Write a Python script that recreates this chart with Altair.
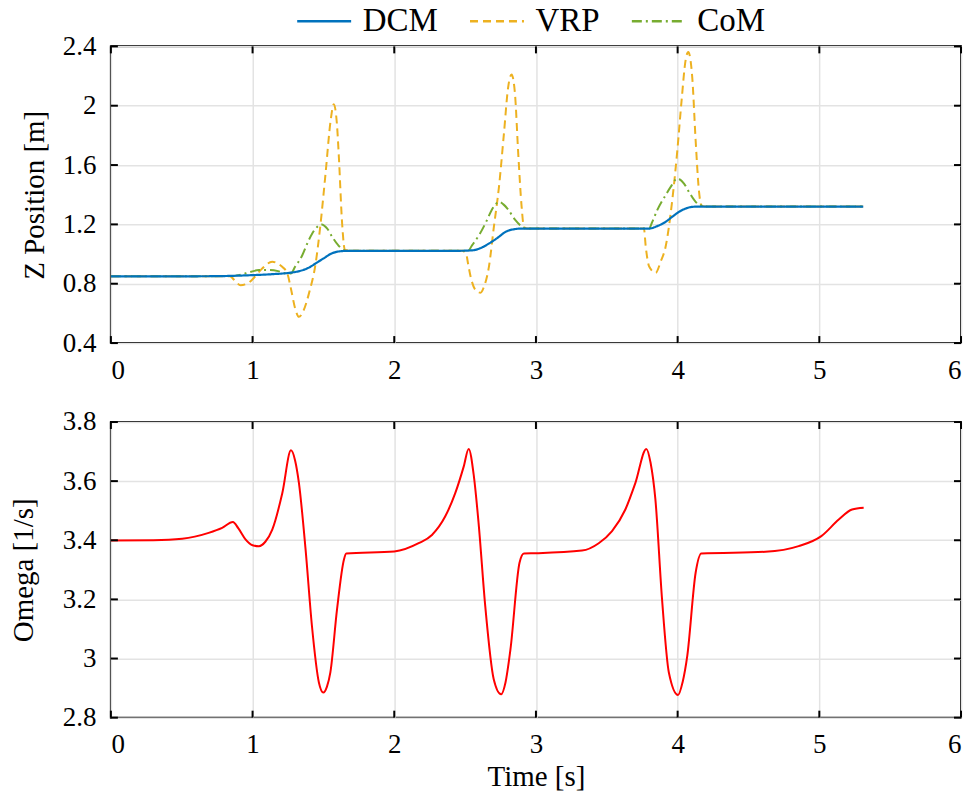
import altair as alt
import pandas as pd

# ---------------- data ----------------
SERIES = ["DCM", "VRP", "CoM"]
COLORS = ["#0072BD", "#EDB120", "#77AC30"]
DASHES = [[1, 0], [8, 5], [10, 4, 2, 4]]

T_DCM = [0, 0.5, 0.76, 0.85, 1.0, 1.15, 1.256, 1.33, 1.40, 1.445, 1.50, 1.56, 1.632, 1.70,
         2.0, 2.45, 2.55, 2.62, 2.668, 2.73, 2.786, 2.85, 2.903, 2.95, 3.5, 3.798, 3.86,
         3.915, 3.96, 4.009, 4.06, 4.103, 4.15, 4.7, 5.31]
Z_DCM = [0.85, 0.85, 0.851, 0.853, 0.858, 0.865, 0.873, 0.885, 0.91, 0.937, 0.97, 1.005, 1.02, 1.022,
         1.022, 1.022, 1.025, 1.045, 1.071, 1.11, 1.15, 1.168, 1.172, 1.172, 1.172, 1.172, 1.19,
         1.217, 1.25, 1.284, 1.308, 1.318, 1.32, 1.32, 1.32]

T_VRP = [0, 0.5, 0.84, 0.88, 0.915, 0.96, 1.0, 1.068, 1.138, 1.18, 1.209, 1.245, 1.27, 1.30,
         1.327, 1.36, 1.398, 1.445, 1.48, 1.515, 1.551, 1.573, 1.595, 1.609, 1.632, 1.651, 1.7,
         2.0, 2.48, 2.508, 2.52, 2.539, 2.574, 2.609, 2.633, 2.668, 2.703, 2.739, 2.774, 2.804,
         2.828, 2.852, 2.875, 2.899, 2.915, 2.94, 3.5, 3.762, 3.775, 3.80, 3.845, 3.88, 3.915,
         3.962, 3.998, 4.028, 4.056, 4.075, 4.103, 4.127, 4.15, 4.167, 4.2, 5.31]
Z_VRP = [0.85, 0.85, 0.85, 0.815, 0.79, 0.80, 0.83, 0.903, 0.948, 0.935, 0.914, 0.87, 0.77, 0.635,
         0.577, 0.62, 0.735, 0.937, 1.206, 1.543, 1.90, 2.01, 1.88, 1.655, 1.206, 1.03, 1.022,
         1.022, 1.022, 1.0, 0.94, 0.847, 0.757, 0.739, 0.779, 0.914, 1.183, 1.453, 1.812, 2.126,
         2.211, 2.08, 1.677, 1.318, 1.183, 1.172, 1.172, 1.172, 1.049, 0.914, 0.874, 0.948, 1.049,
         1.363, 1.70, 2.036, 2.306, 2.362, 2.193, 1.767, 1.43, 1.329, 1.32, 1.32]

T_COM = [0, 0.5, 0.85, 0.9, 0.95, 1.045, 1.12, 1.18, 1.22, 1.27, 1.30, 1.35, 1.386, 1.421, 1.457,
         1.487, 1.527, 1.562, 1.604, 1.645, 1.7, 2.0, 2.52, 2.55, 2.60, 2.65, 2.687, 2.715, 2.739,
         2.77, 2.80, 2.855, 2.903, 2.93, 3.5, 3.798, 3.821, 3.856, 3.915, 3.951, 3.998, 4.045,
         4.080, 4.127, 4.162, 4.2, 5.31]
Z_COM = [0.85, 0.85, 0.852, 0.858, 0.87, 0.892, 0.893, 0.885, 0.873, 0.869, 0.914, 0.99, 1.071,
         1.139, 1.184, 1.20, 1.172, 1.116, 1.06, 1.026, 1.022, 1.022, 1.022, 1.06, 1.13, 1.22, 1.296,
         1.335, 1.352, 1.335, 1.305, 1.228, 1.183, 1.172, 1.172, 1.172, 1.217, 1.296, 1.397, 1.453,
         1.509, 1.475, 1.419, 1.352, 1.329, 1.32, 1.32]

T_OMEGA = [0, 0.3, 0.503, 0.69, 0.785, 0.861, 0.90, 0.95, 1.0, 1.045, 1.09, 1.139, 1.21, 1.271,
           1.30, 1.327, 1.374, 1.419, 1.468, 1.499, 1.525, 1.549, 1.596, 1.645, 1.661, 2.0, 2.172,
           2.266, 2.36, 2.431, 2.49, 2.525, 2.562, 2.595, 2.642, 2.702, 2.754, 2.785, 2.82, 2.884,
           2.915, 3.0, 3.325, 3.443, 3.537, 3.631, 3.702, 3.779, 3.809, 3.843, 3.89, 3.938, 4.003,
           4.035, 4.068, 4.127, 4.167, 4.619, 4.854, 5.014, 5.137, 5.231, 5.313]
W_OMEGA = [3.399, 3.40, 3.405, 3.425, 3.442, 3.462, 3.44, 3.403, 3.383, 3.38, 3.395, 3.436, 3.56, 3.704,
           3.67, 3.594, 3.369, 3.11, 2.919, 2.885, 2.905, 2.953, 3.166, 3.335, 3.355, 3.362, 3.39,
           3.418, 3.481, 3.56, 3.649, 3.709, 3.616, 3.459, 3.178, 2.93, 2.879, 2.919, 3.031, 3.324,
           3.355, 3.356, 3.365, 3.39, 3.431, 3.504, 3.594, 3.709, 3.662, 3.538, 3.2, 2.953, 2.877,
           2.92, 3.009, 3.29, 3.355, 3.361, 3.38, 3.414, 3.47, 3.504, 3.51]

X_TICKS = [0, 1, 2, 3, 4, 5, 6]
Z_TICKS = [0.4, 0.8, 1.2, 1.6, 2.0, 2.4]
W_TICKS = [2.8, 3.0, 3.2, 3.4, 3.6, 3.8]

# ---------------- build tables ----------------
rows = []
for name, ts, zs in [("VRP", T_VRP, Z_VRP), ("CoM", T_COM, Z_COM), ("DCM", T_DCM, Z_DCM)]:
    for t, z in zip(ts, zs):
        rows.append({"t": t, "v": z, "series": name})
df_top = pd.DataFrame(rows)
df_bot = pd.DataFrame({"t": T_OMEGA, "v": W_OMEGA})
df_xt = pd.DataFrame({"t": X_TICKS})

W, H_TOP, H_BOT = 851, 297, 296
FONT = "Liberation Serif"
TICK = 7


def axis_style(**kw):
    return alt.Axis(labelFont=FONT, labelFontSize=27, labelColor="black",
                    titleFont=FONT, titleFontSize=29, titleFontWeight="normal", titleColor="black",
                    domain=False, ticks=False, tickSize=0, grid=True, gridColor="#e3e3e3",
                    gridWidth=1.5, **kw)


def xenc(show_title):
    return alt.X("t:Q", scale=alt.Scale(domain=[0, 6], nice=False, zero=False),
                 axis=axis_style(values=X_TICKS, format="d",
                                 title="Time [s]" if show_title else None,
                                 titlePadding=5, labelPadding=14))


def yenc(domain, ticks, title, tpad):
    return alt.Y("v:Q", scale=alt.Scale(domain=domain, nice=False, zero=False),
                 axis=axis_style(values=ticks, format=".1~f", title=title, titlePadding=tpad,
                                 labelPadding=15))


def panel(base_layers, xt, ydomain, yticks, ytitle, tpad, height, show_xtitle):
    X = xenc(show_xtitle)
    Y = yenc(ydomain, yticks, ytitle, tpad)
    yt = pd.DataFrame({"v": yticks})
    tick_l = alt.Chart(yt).mark_rule(color="black", strokeWidth=2).encode(
        y=Y, x=alt.value(0), x2=alt.value(TICK))
    tick_r = alt.Chart(yt).mark_rule(color="black", strokeWidth=2).encode(
        y=Y, x=alt.value(W), x2=alt.value(W - TICK))
    tick_t = alt.Chart(xt).mark_rule(color="black", strokeWidth=2).encode(
        x=X, y=alt.value(0), y2=alt.value(TICK))
    tick_b = alt.Chart(xt).mark_rule(color="black", strokeWidth=2).encode(
        x=X, y=alt.value(height), y2=alt.value(height - TICK))
    layers = [f(X, Y) for f in base_layers] + [tick_l, tick_r, tick_t, tick_b]
    return alt.layer(*layers).properties(width=W, height=height)


color_enc = alt.Color("series:N", scale=alt.Scale(domain=SERIES, range=COLORS),
                      legend=alt.Legend(title=None, orient="none", direction="horizontal",
                                        legendX=197, legendY=-42, symbolType="M-3,0H3",
                                        symbolSize=324, symbolStrokeWidth=2.5,
                                        labelFont=FONT, labelFontSize=33, labelColor="black",
                                        labelOffset=22, columnPadding=26))
dash_enc = alt.StrokeDash("series:N", scale=alt.Scale(domain=SERIES, range=DASHES), legend=None)


def series_layer(name, width):
    def f(X, Y):
        return alt.Chart(df_top).transform_filter(alt.datum.series == name).mark_line(
            strokeWidth=width, interpolate="monotone", clip=True).encode(
            x=X, y=Y, color=color_enc, strokeDash=dash_enc)
    return f


def omega_layer(X, Y):
    return alt.Chart(df_bot).mark_line(color="#FF0000", strokeWidth=2,
                                       interpolate="monotone", clip=True).encode(x=X, y=Y)


top = panel([series_layer("VRP", 2), series_layer("CoM", 2), series_layer("DCM", 2.2)],
            df_xt, [0.4, 2.4], Z_TICKS, "Z Position [m]", 13, H_TOP, False)
bot = panel([omega_layer], df_xt, [2.8, 3.8], W_TICKS, "Omega [1/s]", 24, H_BOT, True)

chart = alt.vconcat(top, bot, spacing=79, bounds="flush").properties(
    padding={"left": 0, "top": -4, "right": 5, "bottom": 5},
    background="white",
).resolve_scale(color="shared", strokeDash="shared").configure_view(
    stroke="black", strokeWidth=2
)

chart.save("out.html", embed_options={"renderer": "svg", "actions": False})
